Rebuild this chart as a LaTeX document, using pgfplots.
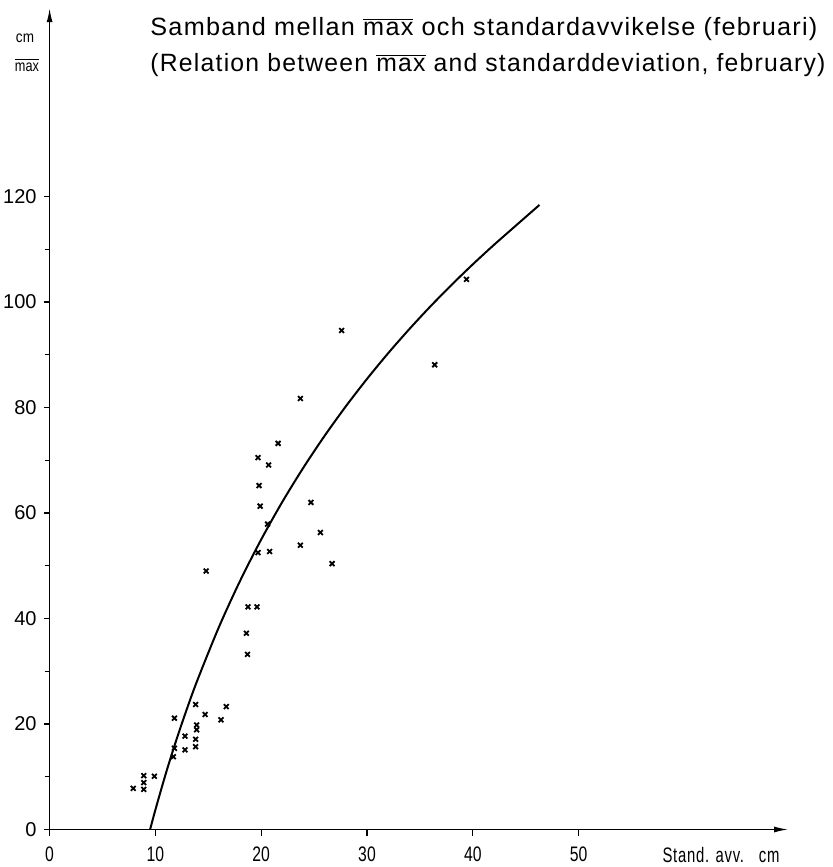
\documentclass[border=0pt]{standalone}
\usepackage{fontspec}
\setmainfont{Liberation Sans}
\newfontfamily\titlefont[LetterSpace=5]{Liberation Sans}
\usepackage{graphicx}
\usepackage{pgfplots}
\pgfplotsset{compat=1.18}
\usetikzlibrary{arrows.meta}
\begin{document}
\begin{tikzpicture}
\path[use as bounding box] (-24.8pt,-18.75pt) rectangle (391.2pt,414.75pt);
\begin{axis}[
  at={(0pt,0pt)}, anchor=south west,
  scale only axis,
  x=5.29pt, y=2.6375pt,
  xmin=0, xmax=69.8, ymin=0, ymax=155.7,
  axis lines=left,
  axis line style={line width=0.7pt, -{Latex[length=7pt,width=3pt]}},
  xtick={0,10,...,50}, ytick={0,20,...,120},
  minor ytick={10,30,...,110},
  tick align=outside,
  major tick length=3pt, minor tick length=2.5pt,
  tick style={line width=0.6pt, black},
  /pgf/number format/assume math mode=true,
  yticklabel style={font=\fontsize{10}{12}\selectfont},
  xticklabel={\scalebox{0.75}[1]{\pgfmathprintnumber{\tick}}},
  xticklabel style={font=\fontsize{10.5}{12}\selectfont, yshift=-2.2pt},
  clip=false,
]
\addplot[black, line width=1pt, smooth, tension=0.5] coordinates {
(9.5,0) (10,3.74) (11,10.71) (12,17.09) (13,22.99) (14,28.46) (16,38.36)
(18,47.12) (20,54.98) (22,62.12) (24,68.64) (26,74.65) (28,80.22)
(30,85.42) (32,90.29) (34,94.86) (36,99.18) (38,103.26) (40,107.14)
(42,110.83) (44,114.36) (46.3,118.4)
};
\addplot[only marks, mark=x, mark size=1.7pt, mark options={line width=0.9pt, black}] coordinates {
(7.9,7.8) (8.9,7.6) (8.9,8.9) (8.9,10.2) (9.9,10.1)
(11.7,13.8) (11.8,15.4) (11.8,21.1) (12.8,15.1) (12.8,17.7)
(13.8,15.7) (13.8,17.1) (13.9,18.9) (13.9,19.8) (13.8,23.7)
(14.7,21.8) (16.2,20.8) (16.7,23.3) (14.8,49.0)
(18.7,33.2) (18.6,37.2) (18.75,42.2) (19.6,42.2)
(19.7,52.5) (20.8,52.7) (23.7,53.9) (26.7,50.4) (25.6,56.3)
(20.6,57.9) (19.9,61.3) (24.7,62.0) (19.8,65.2) (20.7,69.1)
(19.7,70.5) (21.6,73.2) (23.7,81.7) (27.6,94.6) (36.4,88.1) (39.4,104.3)
};
\end{axis}
\node[anchor=base west, inner sep=0pt] at (50.2pt,396.75pt)
  {\resizebox{333.5pt}{\height}{\titlefont\fontsize{12.5}{14}\selectfont Samband mellan $\overline{\mbox{max}}$ och standardavvikelse (februari)}};
\node[anchor=base west, inner sep=0pt] at (50.2pt,378.75pt)
  {\resizebox{337.5pt}{\height}{\titlefont\fontsize{12.5}{14}\selectfont (Relation between $\overline{\mbox{max}}$ and standarddeviation, february)}};
\node[inner sep=0pt] at (335.7pt,-12.5pt)
  {\resizebox{58.5pt}{\height}{\titlefont\fontsize{10.5}{12}\selectfont Stand. avv.\quad cm}};
\node[inner sep=0pt] at (-12.3pt,395.75pt)
  {\resizebox{9pt}{\height}{\fontsize{8}{10}\selectfont cm}};
\node[inner sep=0pt] at (-11.3pt,382.25pt)
  {\resizebox{12pt}{\height}{\fontsize{8}{10}\selectfont $\overline{\mbox{max}}$}};
\end{tikzpicture}
\end{document}
